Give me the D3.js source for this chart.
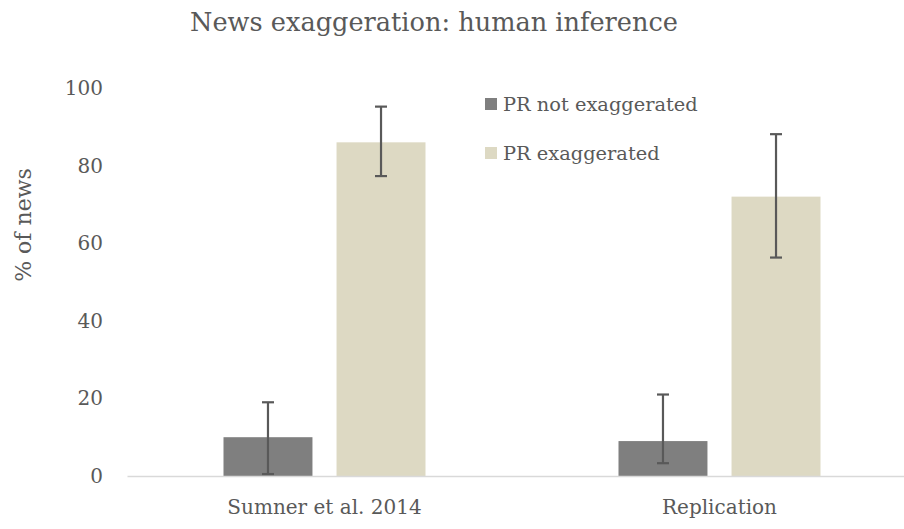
<!DOCTYPE html>
<html><head><meta charset="utf-8">
<script src="https://cdn.jsdelivr.net/npm/d3@7"></script>
<style>body{margin:0;background:#fff}svg{display:block}</style>
</head><body>
<svg id="c" width="904" height="529"></svg>
<script>
const categories = ["Sumner et al. 2014", "Replication"];
const series = ["PR not exaggerated", "PR exaggerated"];
const valuesNotExag = [10, 9];
const valuesExag = [86, 72];
const errLowNotExag = [0.5, 3.3];
const errHighNotExag = [19, 21];
const errLowExag = [77.3, 56.3];
const errHighExag = [95.2, 88.1];
const yTicks = [0, 20, 40, 60, 80, 100];
const colors = ["#7f7f7f", "#ddd9c3"];

const font = "'DejaVu Serif', serif";
const txt = "#595959";
const svg = d3.select("#c");

const y = d3.scaleLinear().domain([0, 100]).range([476, 88]);
const x0 = d3.scaleBand().domain(categories).range([127, 917]).paddingInner(0.4886).paddingOuter(0.2443);
const x1 = d3.scaleBand().domain(series).range([0, x0.bandwidth()]).paddingInner(0.213);

const rows = categories.map((c, i) => ({
  cat: c,
  vals: [
    {s: series[0], v: valuesNotExag[i], lo: errLowNotExag[i], hi: errHighNotExag[i], col: colors[0]},
    {s: series[1], v: valuesExag[i], lo: errLowExag[i], hi: errHighExag[i], col: colors[1]}
  ]
}));

// title
svg.append("text").attr("x", 434).attr("y", 31).attr("text-anchor", "middle")
  .attr("font-family", font).attr("font-size", 25.6).attr("fill", txt)
  .text("News exaggeration: human inference");

// y axis (labels only)
const yAxis = svg.append("g").attr("transform", "translate(112,0)")
  .call(d3.axisLeft(y).tickValues(yTicks).tickSize(0).tickPadding(0));
yAxis.select(".domain").remove();
yAxis.selectAll("text").attr("font-family", font).attr("font-size", 20).attr("fill", txt).attr("dx", "-9");

svg.append("text").attr("transform", "translate(31,225) rotate(-90)").attr("text-anchor", "middle")
  .attr("font-family", font).attr("font-size", 22).attr("fill", txt).text("% of news");

// bars
const g = svg.append("g");
const grp = g.selectAll("g.grp").data(rows).join("g").attr("class", "grp")
  .attr("transform", d => `translate(${x0(d.cat)},0)`);
grp.selectAll("rect").data(d => d.vals).join("rect")
  .attr("x", d => x1(d.s)).attr("width", x1.bandwidth())
  .attr("y", d => y(d.v)).attr("height", d => y(0) - y(d.v))
  .attr("fill", d => d.col);

// x axis
const xAxis = svg.append("g").attr("transform", `translate(0,${y(0)})`)
  .call(d3.axisBottom(x0).tickSize(0).tickPadding(0));
xAxis.select(".domain").attr("stroke", "#d9d9d9").attr("stroke-width", 1.5);
xAxis.selectAll("text").attr("font-family", font).attr("font-size", 20).attr("fill", txt).attr("dy", "1.9em");

// error bars
const eb = grp.selectAll("g.eb").data(d => d.vals).join("g").attr("class", "eb")
  .attr("stroke", "#595959").attr("stroke-width", 2.2);
const cx = d => x1(d.s) + x1.bandwidth() / 2;
eb.append("line").attr("x1", cx).attr("x2", cx).attr("y1", d => y(d.lo)).attr("y2", d => y(d.hi));
eb.append("line").attr("x1", d => cx(d) - 6).attr("x2", d => cx(d) + 6).attr("y1", d => y(d.lo)).attr("y2", d => y(d.lo));
eb.append("line").attr("x1", d => cx(d) - 6).attr("x2", d => cx(d) + 6).attr("y1", d => y(d.hi)).attr("y2", d => y(d.hi));

// legend
const lg = svg.append("g").selectAll("g").data(series).join("g")
  .attr("transform", (d, i) => `translate(485,${98 + i * 49})`);
lg.append("rect").attr("width", 12).attr("height", 12).attr("fill", (d, i) => colors[i]);
lg.append("text").attr("x", 18).attr("y", 12.5).attr("font-family", font).attr("font-size", 19.4).attr("fill", txt).text(d => d);
</script>
</body></html>
